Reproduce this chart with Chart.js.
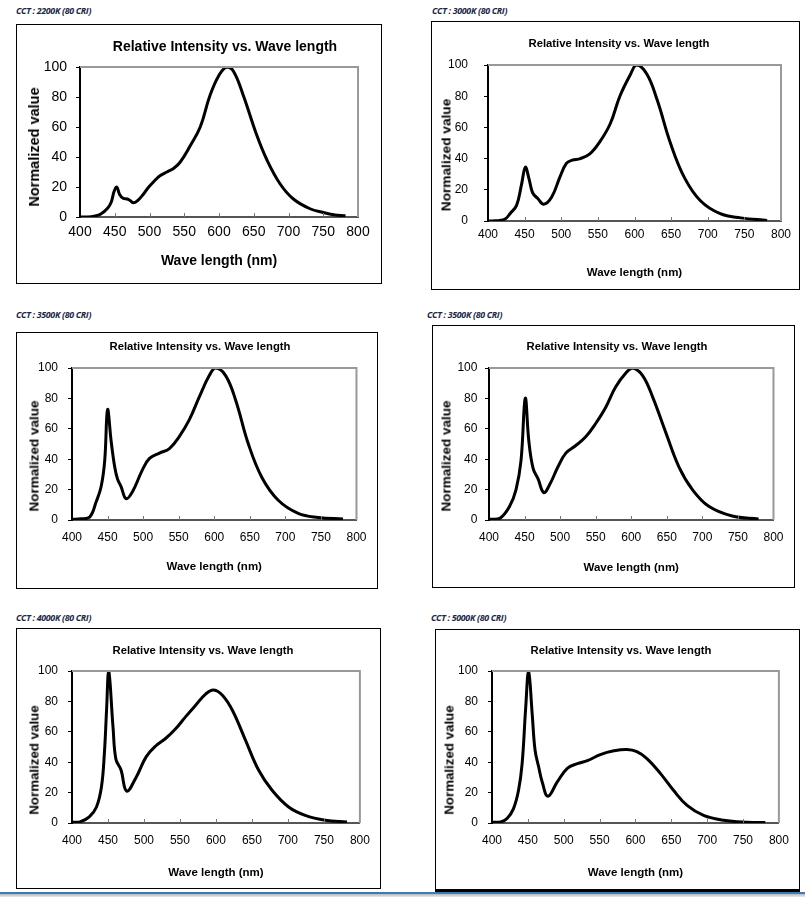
<!DOCTYPE html>
<html>
<head>
<meta charset="utf-8">
<script src="https://cdn.jsdelivr.net/npm/chart.js@4"></script>
<style>
  body { margin: 0; background: #fff; width: 805px; height: 897px; position: relative; overflow: hidden; font-family: 'Liberation Sans', Arial, sans-serif; }
  .panel { position: absolute; border: 1px solid #000; box-sizing: border-box; background: #fff; }
  .panel canvas { display: block; }
  .cct { position: absolute; font-family: 'Open Sans', sans-serif; font-style: italic; font-weight: bold; font-size: 8.8px; letter-spacing: -0.3px; color: #1a2744; white-space: nowrap; }
  .ttl { position: absolute; transform: translate(-50%, -50%); font-weight: bold; white-space: nowrap; color: #000; }
  .ytl { position: absolute; transform: translate(-50%, -50%) rotate(-90deg); font-weight: bold; white-space: nowrap; color: #000; }
  .bar { position: absolute; left: 0; top: 892px; width: 805px; height: 5px; border-top: 2px solid #3d7ab8; background: linear-gradient(#b8b8b8, #e8e8e8); box-sizing: border-box; }
</style>
</head>
<body>

<script>
// etiquetas y datos
const cctLabels = ['CCT : 2200K (80 CRI)', 'CCT : 3000K (80 CRI)', 'CCT : 3500K (80 CRI)', 'CCT : 3500K (80 CRI)', 'CCT : 4000K (80 CRI)', 'CCT : 5000K (80 CRI)'];
const chartTitle = 'Relative Intensity vs. Wave length';
const xTitle = 'Wave length (nm)';
const yTitle = 'Normalized value';

const wl2200 = [400, 410, 420, 430, 440, 445, 449, 453, 457, 462, 468, 472, 477, 483, 490, 498, 507, 515, 525, 535, 544, 558, 573, 587, 600, 611, 621, 635, 654, 669, 688, 707, 731, 750, 765, 782];
const int2200 = [0, 0, 0.5, 2, 6, 10, 17, 20, 15, 12.5, 12, 11, 9.5, 11, 14.5, 19.5, 24, 27.5, 30, 32.5, 36.5, 47, 60, 81, 94.5, 100, 97, 81, 55, 38, 22, 12, 5.5, 3, 1.5, 0.8];

const wl3000 = [400, 415, 424, 430, 439, 446, 451, 456, 461, 468, 476, 487, 498, 507, 515, 526, 539, 553, 567, 580, 594, 603, 617, 631, 649, 668, 690, 717, 745, 781];
const int3000 = [0, 0.3, 1.5, 4.7, 10, 24, 34.5, 27, 18, 14.4, 10.7, 15.4, 28, 37, 39, 40, 43, 51, 62.5, 80, 93.5, 100, 94, 77.5, 50, 28, 13, 4.7, 2, 0.4];

const wl3500a = [400, 413, 425, 434, 441, 446, 450, 455, 460, 464, 469, 476, 485, 499, 509, 523, 537, 551, 565, 579, 593, 602, 616, 630, 648, 667, 690, 718, 746, 781];
const int3500a = [0.5, 0.8, 2, 12, 22, 39, 72.6, 52, 35, 27, 22, 14, 18.6, 33, 40.5, 44, 47, 55, 66, 81, 95, 100, 95, 79, 50, 28, 13, 4.4, 1.7, 0.7];

const wl3500b = [400, 415, 429, 438, 445, 451, 456, 462, 469, 477, 485, 497, 508, 522, 536, 550, 564, 578, 593, 602, 616, 630, 649, 667, 686, 709, 742, 779];
const int3500b = [0.5, 1, 9, 20, 39, 80, 52, 34, 27, 18, 23, 35, 44, 49, 54.7, 63.5, 74, 87.5, 97, 100, 95, 81, 57, 35, 20, 9, 2.6, 0.7];

const wl4000 = [400, 411, 424, 434, 441, 445, 448, 451, 457, 461, 468, 476, 489, 503, 517, 530, 544, 558, 572, 586, 597, 609, 623, 641, 659, 678, 701, 724, 752, 782];
const int4000 = [0.5, 0.7, 4, 10.5, 24, 46, 74, 100, 63, 42, 35, 21, 30, 43.5, 51, 55.6, 62, 70, 77.6, 85, 87.5, 84, 74, 54.5, 35, 21.5, 10.5, 5, 1.8, 0.7];

const wl5000 = [400, 412, 421, 430, 437, 442, 447, 451, 456, 460, 465, 470, 478, 491, 505, 519, 533, 551, 570, 588, 602, 616, 635, 653, 672, 695, 723, 756, 781];
const int5000 = [0.5, 0.7, 3, 9.5, 21.5, 39, 76, 100, 72, 48, 37, 27, 17.6, 27, 36, 39, 41, 45, 47.5, 48.4, 47, 42.4, 32.5, 21.5, 11.6, 5, 1.8, 0.5, 0.3];

const xTicks = [400, 450, 500, 550, 600, 650, 700, 750, 800];
const yTicks = [0, 20, 40, 60, 80, 100];

const series = [[wl2200, int2200], [wl3000, int3000], [wl3500a, int3500a], [wl3500b, int3500b], [wl4000, int4000], [wl5000, int5000]];

// posiciones de cada recuadro (px de página)
const panels = [
  { box: [16, 24, 366, 260], cct: [16, 5], ttl: [225, 46, 14], ytl: [34, 147, 14.5], yW: 63, xH: 66, padT: 42, padR: 23, big: true,
    xtPad: 7, xTitlePad: 13.6, ytPad: 9 },
  { box: [431, 21, 369, 269], cct: [432, 5], ttl: [619, 43, 11.3], ytl: [446, 155, 13.7], yW: 56, xH: 68, padT: 43, padR: 18,
    xtPad: 6, xTitlePad: 9.1, ytPad: 16 },
  { box: [16, 332, 362, 257], cct: [16, 309], ttl: [200, 346, 11.3], ytl: [34, 456, 13.5], yW: 55, xH: 68, padT: 35, padR: 19,
    xtPad: 10.5, xTitlePad: 14.4, ytPad: 10 },
  { box: [432, 325, 363, 263], cct: [427, 309], ttl: [617, 346, 11.3], ytl: [446, 456, 13.5], yW: 56, xH: 67, padT: 42, padR: 19,
    xtPad: 10.5, xTitlePad: 12.4, ytPad: 7.6 },
  { box: [16, 628, 365, 261], cct: [16, 612], ttl: [203, 650, 11.3], ytl: [34, 760, 13.3], yW: 55, xH: 65, padT: 42, padR: 18,
    xtPad: 10.1, xTitlePad: 7.8, ytPad: 10 },
  { box: [435, 629, 365, 263], cct: [431, 612], ttl: [621, 650, 11.3], ytl: [449, 760, 13.3], yW: 56, xH: 66, padT: 41, padR: 20, thick: true,
    xtPad: 10.1, xTitlePad: 8.8, ytPad: 10 }
];

const FONT = "'Liberation Sans', Arial, sans-serif";

// borde gris arriba/derecha y marcas hacia dentro en el eje x
const plotFrame = {
  id: 'plotFrame',
  afterDatasetsDraw(chart) {
    const { ctx, chartArea: a, scales } = chart;
    ctx.save();
    ctx.strokeStyle = '#999';
    ctx.lineWidth = 2;
    ctx.beginPath();
    ctx.moveTo(a.left, a.top);
    ctx.lineTo(a.right, a.top);
    ctx.lineTo(a.right, a.bottom);
    ctx.stroke();
    ctx.lineWidth = 1;
    ctx.strokeStyle = '#777';
    xTicks.slice(1, -1).forEach(v => {
      const px = Math.round(scales.x.getPixelForValue(v)) + 0.5;
      ctx.beginPath();
      ctx.moveTo(px, a.bottom);
      ctx.lineTo(px, a.bottom - 4);
      ctx.stroke();
    });
    ctx.restore();
  }
};

function addText(cls, x, y, txt, size) {
  const d = document.createElement('div');
  d.className = cls;
  d.style.left = x + 'px';
  d.style.top = y + 'px';
  if (size) d.style.fontSize = size + 'px';
  d.textContent = txt;
  document.body.appendChild(d);
}

panels.forEach((p, i) => {
  const [bx, by, bw, bh] = p.box;

  addText('cct', p.cct[0], p.cct[1], cctLabels[i]);

  const div = document.createElement('div');
  div.className = 'panel';
  div.style.left = bx + 'px';
  div.style.top = by + 'px';
  div.style.width = bw + 'px';
  div.style.height = bh + 'px';
  if (p.thick) div.style.borderBottomWidth = '3px';
  const cv = document.createElement('canvas');
  cv.width = bw - 2;
  cv.height = bh - (p.thick ? 4 : 2);
  div.appendChild(cv);
  document.body.appendChild(div);

  addText('ttl', p.ttl[0], p.ttl[1], chartTitle, p.ttl[2]);
  addText('ytl', p.ytl[0], p.ytl[1], yTitle, p.ytl[2]);

  const tickSize = p.big ? 14 : 12;
  const xTitleSize = p.big ? 14 : 11.5;
  const [wl, val] = series[i];

  new Chart(cv, {
    type: 'line',
    data: {
      datasets: [{
        data: wl.map((w, k) => ({ x: w, y: val[k] })),
        borderColor: '#000',
        borderWidth: 3,
        pointRadius: 0,
        fill: false,
        tension: 0.4
      }]
    },
    options: {
      responsive: false,
      animation: false,
      devicePixelRatio: 1,
      layout: { padding: { top: p.padT, right: p.padR, left: 0, bottom: 0 } },
      plugins: { legend: { display: false }, tooltip: { enabled: false }, title: { display: false } },
      scales: {
        x: {
          type: 'linear',
          min: 400,
          max: 800,
          afterBuildTicks: s => { s.ticks = xTicks.map(v => ({ value: v })); },
          afterFit: s => { s.height = p.xH; },
          ticks: { color: '#000', padding: p.xtPad, maxRotation: 0, font: { family: FONT, size: tickSize } },
          grid: { display: true, drawOnChartArea: false, drawTicks: false },
          border: { color: '#555', width: 2 },
          title: { display: true, text: xTitle, color: '#000', padding: { top: 0, bottom: p.xTitlePad },
                   font: { family: FONT, size: xTitleSize, weight: 'bold' } }
        },
        y: {
          min: 0,
          max: 100,
          afterBuildTicks: s => { s.ticks = yTicks.map(v => ({ value: v })); },
          afterFit: s => { s.width = p.yW; },
          ticks: { color: '#000', padding: p.ytPad, font: { family: FONT, size: tickSize } },
          grid: { display: true, drawOnChartArea: false, drawTicks: true, tickLength: 4, color: '#000' },
          border: { color: '#000', width: 2 }
        }
      }
    },
    plugins: [plotFrame]
  });
});
</script>
<div class="bar"></div>
</body>
</html>
